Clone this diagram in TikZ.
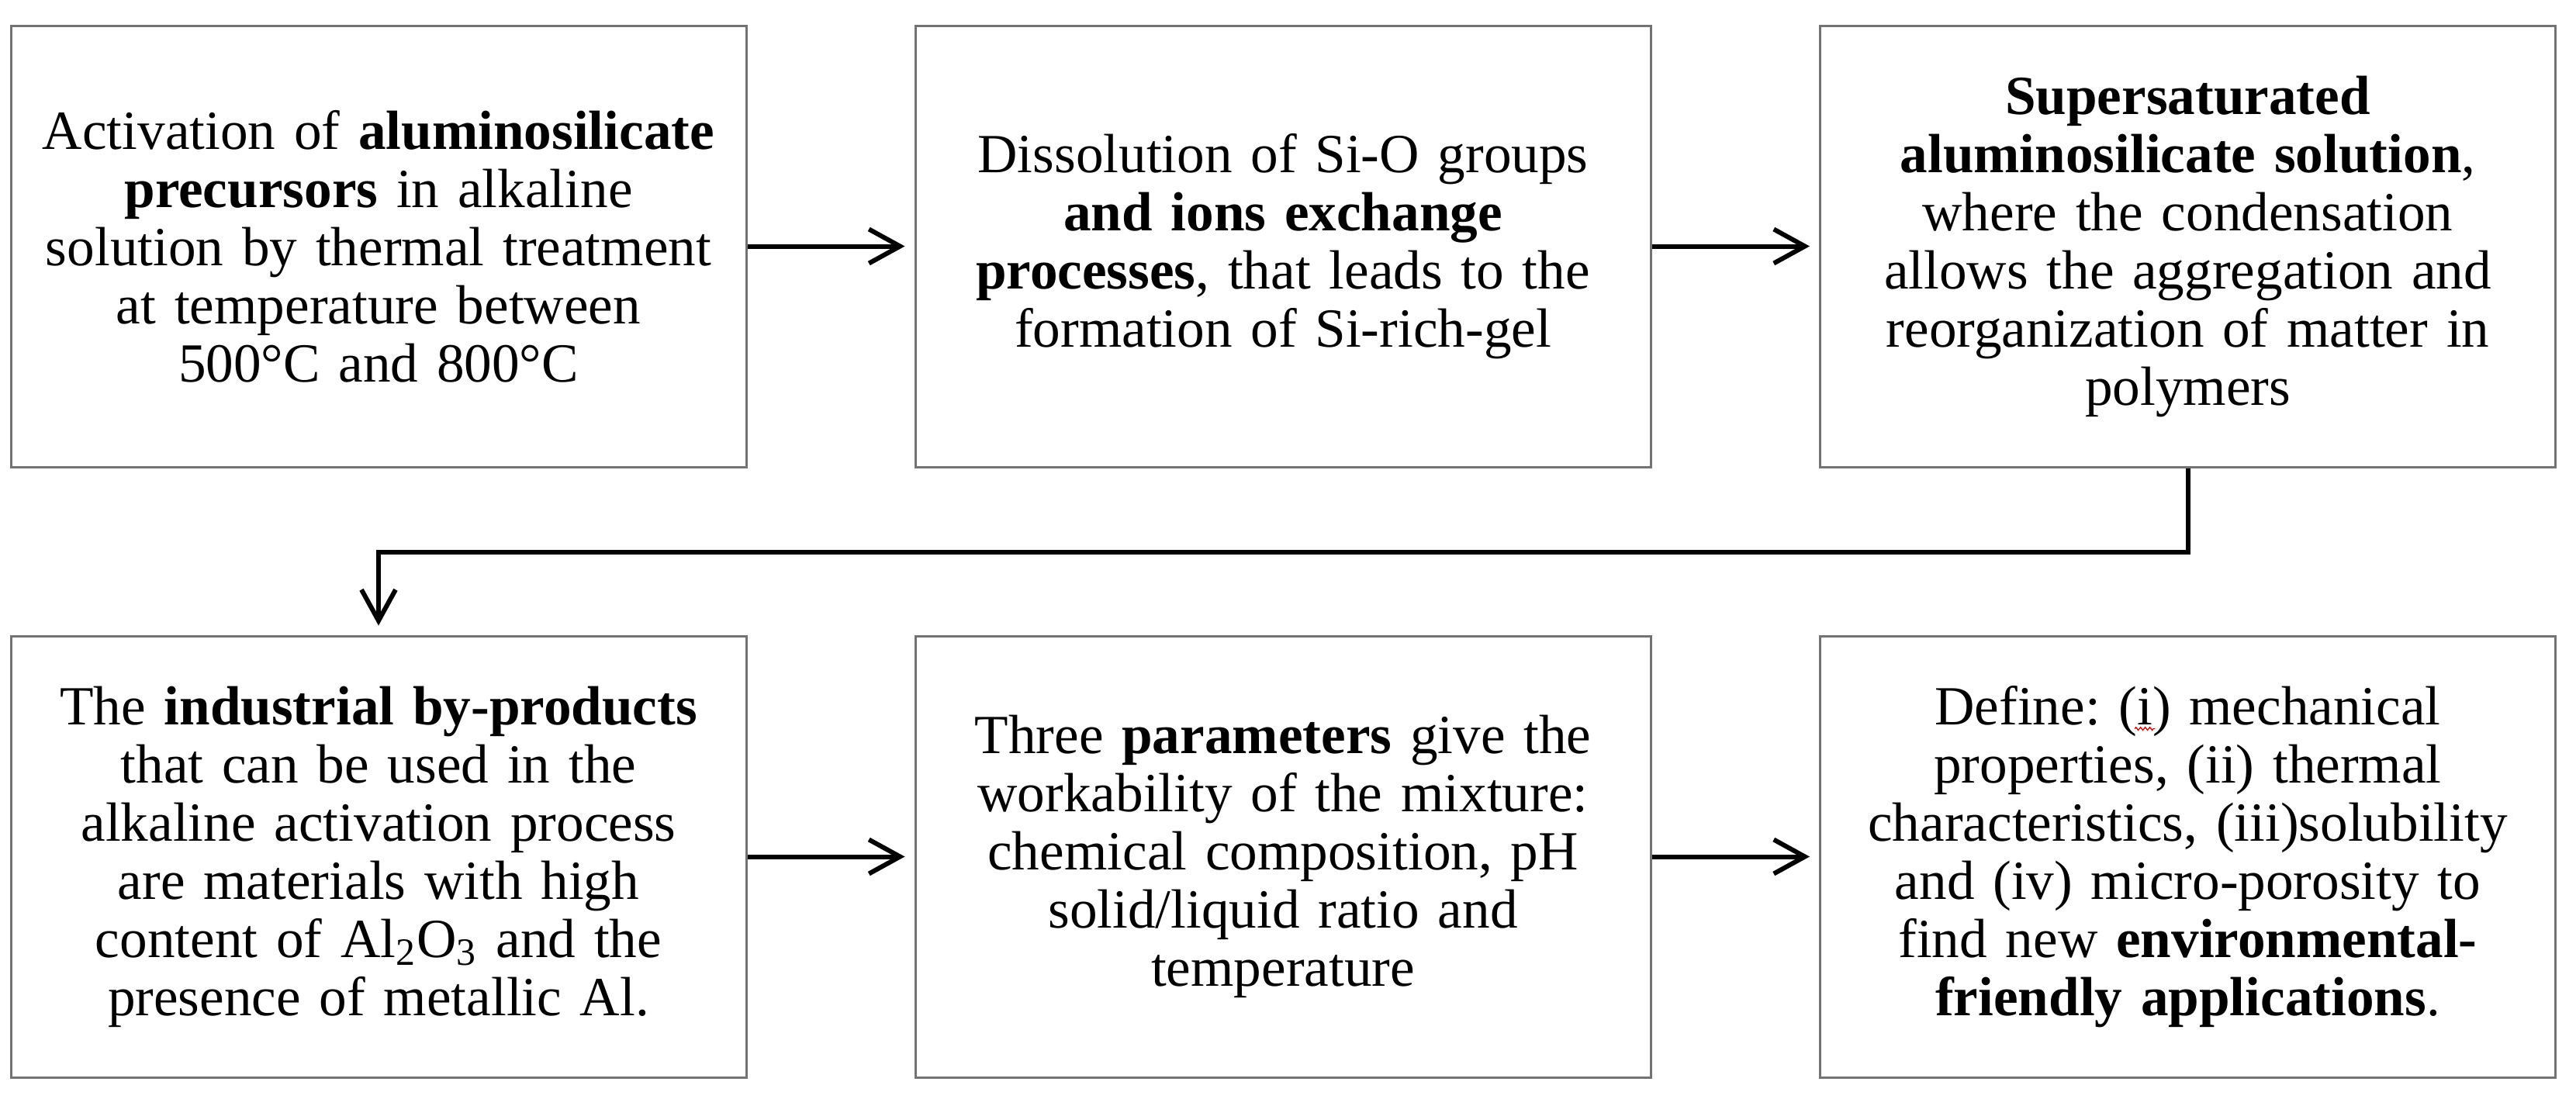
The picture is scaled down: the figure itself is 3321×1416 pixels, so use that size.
\documentclass[tikz,border=0pt]{standalone}
\usepackage{fontspec}
\setmainfont{Liberation Serif}
\usetikzlibrary{arrows.meta,decorations.pathmorphing}
\newcommand{\squigi}[1]{\tikz[x=1pt,y=1pt,baseline=(sq.base)]{\node[inner sep=0pt,outer sep=0pt,minimum width=0pt,minimum height=0pt,text width=,align=left,draw=none] (sq) {#1};\draw[overlay,red!85!black,line width=0.3pt,decorate,decoration={zigzag,amplitude=0.5pt,segment length=1.5pt}] ([yshift=-1.3pt,xshift=-0.8pt]sq.base west) -- ([yshift=-1.3pt,xshift=0.8pt]sq.base east);}}
\begin{document}
\frenchspacing
\begin{tikzpicture}[x=0.25pt,y=-0.25pt,
  box/.style={draw=black!55,line width=0.75pt,minimum width=237pt,minimum height=142.25pt,
    inner sep=0pt,align=center,text width=234pt,font=\fontsize{17.8}{18.75}\selectfont\frenchspacing},
  conn/.style={line width=1.5pt,shorten >=3pt,-{Straight Barb[length=10pt,width=11pt,line width=1.5pt]}}]
\path[use as bounding box] (0,0) rectangle (3321,1416);
\node[box] (b1) at (488,317.5) {Activation of \textbf{aluminosilicate}\\\textbf{precursors} in alkaline\\solution by thermal treatment\\at temperature between\\500°C and 800°C};
\node[box] (b2) at (1654,317.5) {Dissolution of Si-O groups\\\textbf{and ions exchange}\\\textbf{processes}, that leads to the\\formation of Si-rich-gel};
\node[box] (b3) at (2820.5,317.5) {\textbf{Supersaturated}\\\textbf{aluminosilicate solution},\\where the condensation\\allows the aggregation and\\reorganization of matter in\\polymers};
\node[box] (b4) at (488,1104.5) {The \textbf{industrial by-products}\\that can be used in the\\alkaline activation process\\are materials with high\\content of Al\textsubscript{2}O\textsubscript{3} and the\\presence of metallic Al.};
\node[box] (b5) at (1654,1104.5) {Three \textbf{parameters} give the\\workability of the mixture:\\chemical composition, pH\\solid/liquid ratio and\\temperature};
\node[box] (b6) at (2820.5,1104.5) {Define: (\squigi{i}) mechanical\\properties, (ii) thermal\\characteristics, (iii)solubility\\and (iv) micro-porosity to\\find new \textbf{environmental-}\\\textbf{friendly applications}.};
\coordinate (k1) at (2820.5,712);
\coordinate (k2) at (488,712);
\draw[conn] (b1) -- (b2);
\draw[conn] (b2) -- (b3);
\draw[conn] (b4) -- (b5);
\draw[conn] (b5) -- (b6);
\draw[conn] (b3.south) -- (k1) -- (k2) -- (b4.north);
\end{tikzpicture}
\end{document}
